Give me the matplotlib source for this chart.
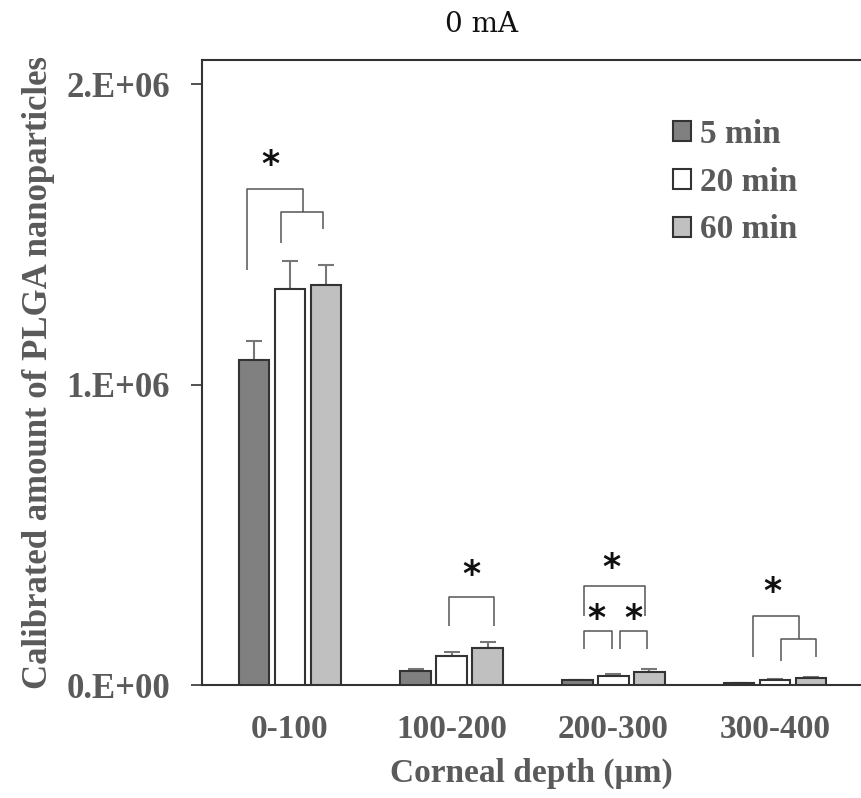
import matplotlib
matplotlib.use("Agg")
import matplotlib.pyplot as plt
import numpy as np

# Corneal depth bins and exposure times
depths = ["0-100", "100-200", "200-300", "300-400"]
series = ["5 min", "20 min", "60 min"]

# Calibrated particle amounts (mean) and upper error per depth bin
mean_5 = [1.081e6, 0.048e6, 0.016e6, 0.007e6]
mean_20 = [1.318e6, 0.098e6, 0.030e6, 0.017e6]
mean_60 = [1.331e6, 0.124e6, 0.044e6, 0.022e6]
err_5 = [0.063e6, 0.005e6, 0.002e6, 0.001e6]
err_20 = [0.093e6, 0.013e6, 0.005e6, 0.002e6]
err_60 = [0.067e6, 0.018e6, 0.009e6, 0.004e6]

yticks = [0, 1e6, 2e6]
ytick_labels = ["0.E+00", "1.E+06", "2.E+06"]

colors = ["#808080", "#ffffff", "#c0c0c0"]
text_gray = "#5a5a5a"
line_gray = "#555555"
serif = ["Liberation Serif", "DejaVu Serif"]

fig = plt.figure(figsize=(8.61, 7.98), dpi=100)
ax = fig.add_axes([0.2346, 0.1416, 0.7654, 0.7832])

x = np.arange(len(depths))
offset = 0.2226
width = 0.19
means = [mean_5, mean_20, mean_60]
errs = [err_5, err_20, err_60]
handles = []
for i, (m, e, c, lab) in enumerate(zip(means, errs, colors, series)):
    pos = x + (i - 1) * offset
    b = ax.bar(pos, m, width, color=c, edgecolor="#333333", linewidth=1.5,
               label=lab, zorder=3)
    ax.errorbar(pos, m, yerr=[np.zeros(len(e)), e], fmt="none",
                ecolor="#777777", elinewidth=1.5, capsize=6, capthick=1.5,
                zorder=2)
    handles.append(b)

# Significance brackets: (group, x_left, x_right, top, left_bottom, right_bottom)
brackets = [
    (0, -0.056, 0.204, 1.574e6, 1.471e6, 1.517e6),
    (0, -0.266, 0.0785, 1.651e6, 1.381e6, 1.574e6),
    (1, -0.017, 0.262, 0.293e6, 0.196e6, 0.196e6),
    (2, -0.181, 0.194, 0.328e6, 0.228e6, 0.228e6),
    (2, -0.181, -0.011, 0.181e6, 0.120e6, 0.120e6),
    (2, 0.041, 0.207, 0.181e6, 0.120e6, 0.120e6),
    (3, 0.034, 0.250, 0.153e6, 0.081e6, 0.093e6),
    (3, -0.136, 0.147, 0.228e6, 0.093e6, 0.153e6),
]
for g, xl, xr, top, lb, rb in brackets:
    ax.plot([g + xl, g + xl, g + xr, g + xr], [lb, top, top, rb],
            color=line_gray, lw=1.1, zorder=4, solid_capstyle="butt")

# Asterisks marking significance
stars = [(0, -0.124, 1.730e6), (1, 0.124, 0.367e6), (2, -0.011, 0.389e6),
         (2, -0.107, 0.221e6), (2, 0.122, 0.221e6), (3, -0.015, 0.311e6)]
for g, dx, y in stars:
    ax.text(g + dx, y, "*", ha="center", va="center", fontsize=25,
            fontweight="bold", color="#111111", family="DejaVu Sans",
            zorder=5)

ax.set_xlim(-0.544, 3.531)
ax.set_ylim(0, 2.08e6)
ax.set_xticks(x)
ax.set_xticklabels(depths, family=serif, fontweight="bold", fontsize=24,
                   color=text_gray)
ax.set_yticks(yticks)
ax.set_yticklabels(ytick_labels, family=serif, fontweight="bold", fontsize=25,
                   color=text_gray)
ax.tick_params(axis="x", length=0, pad=21)
ax.tick_params(axis="y", length=8, width=1.2, color="#333333", pad=15)

ax.spines["right"].set_visible(False)
for s in ["left", "bottom", "top"]:
    ax.spines[s].set_color("#333333")
    ax.spines[s].set_linewidth(1.5)

ax.set_ylabel("Calibrated amount of PLGA nanoparticles", family=serif,
              fontweight="bold", fontsize=25, color=text_gray, labelpad=8)
ax.set_xlabel("Corneal depth (\u03bcm)", family=serif, fontweight="bold",
              fontsize=24, color=text_gray, labelpad=9)

fig.text(482 / 861, 1 - 25 / 798, "0 mA", ha="center", va="center",
         fontsize=20, family="DejaVu Serif", color="#111111")

leg = ax.legend(handles=handles, loc="upper left",
                bbox_to_anchor=(673 / 861, 1 - 119 / 798),
                bbox_transform=fig.transFigure, frameon=False,
                borderpad=0, borderaxespad=0,
                prop={"family": serif, "weight": "bold", "size": 24},
                handlelength=0.55, handleheight=0.55, handletextpad=0.25,
                labelspacing=0.5)
for t in leg.get_texts():
    t.set_color(text_gray)

fig.savefig("out.png", dpi=100, facecolor="white")
